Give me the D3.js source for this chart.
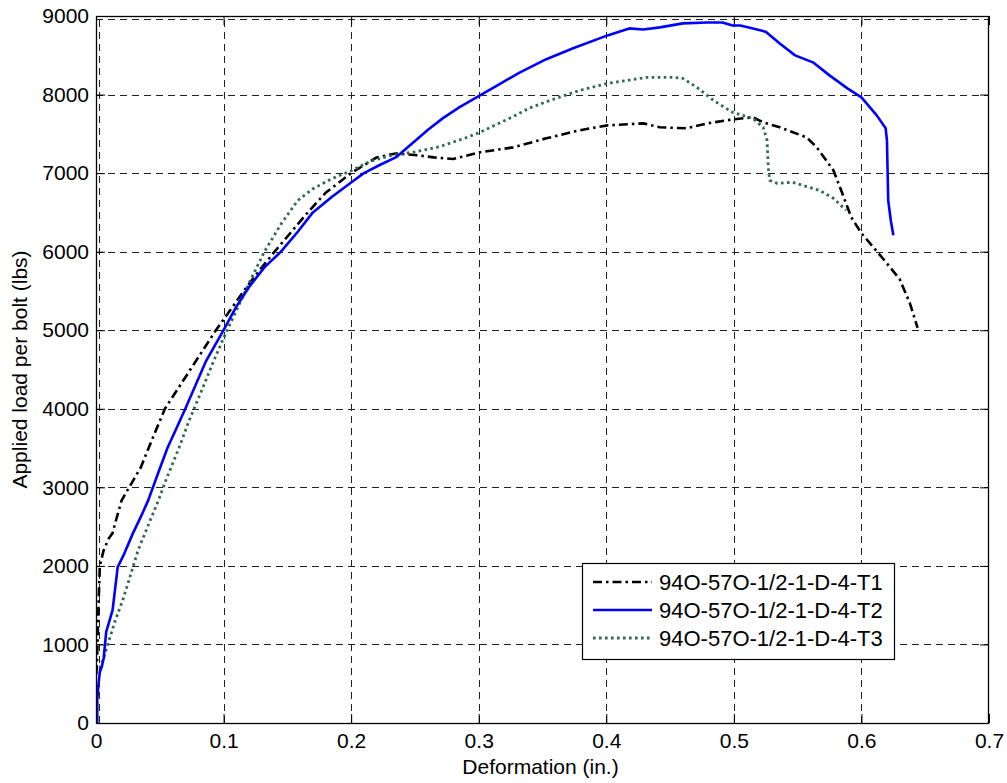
<!DOCTYPE html>
<html>
<head>
<meta charset="utf-8">
<script src="https://cdn.jsdelivr.net/npm/d3@7/dist/d3.min.js"></script>
<style>
  html, body { margin: 0; padding: 0; background: #fff; }
  svg { display: block; }
  text { font-family: "Liberation Sans", Arial, Helvetica, sans-serif; fill: #000; }
</style>
</head>
<body>
<svg id="chart" width="1007" height="783"></svg>
<script>
// ---------- data ----------
const seriesNames = ["94O-57O-1/2-1-D-4-T1", "94O-57O-1/2-1-D-4-T2", "94O-57O-1/2-1-D-4-T3"];

const t1X = [0.0005, 0.001, 0.002, 0.003, 0.006, 0.010, 0.013, 0.016, 0.020, 0.026, 0.035, 0.045, 0.054, 0.064, 0.074, 0.084, 0.094, 0.105, 0.118, 0.130, 0.140, 0.153, 0.166, 0.180, 0.192, 0.200, 0.210, 0.220, 0.235, 0.250, 0.265, 0.280, 0.290, 0.301, 0.327, 0.353, 0.379, 0.401, 0.429, 0.442, 0.463, 0.479, 0.499, 0.515, 0.523, 0.536, 0.557, 0.565, 0.578, 0.585, 0.592, 0.600, 0.616, 0.630, 0.638, 0.644];
const t1Y = [620, 900, 1500, 2000, 2200, 2350, 2420, 2600, 2830, 3000, 3250, 3650, 4000, 4250, 4500, 4750, 5000, 5250, 5550, 5800, 6000, 6250, 6500, 6750, 6900, 7000, 7100, 7200, 7250, 7230, 7200, 7180, 7220, 7265, 7328, 7443, 7545, 7608, 7633, 7583, 7570, 7633, 7684, 7710, 7646, 7583, 7455, 7328, 7036, 6743, 6438, 6234, 5929, 5650, 5343, 5030];

const t2X = [0.001, 0.001, 0.002, 0.003, 0.0045, 0.006, 0.008, 0.013, 0.017, 0.022, 0.029, 0.035, 0.041, 0.048, 0.056, 0.063, 0.070, 0.078, 0.086, 0.093, 0.100, 0.110, 0.120, 0.132, 0.145, 0.158, 0.170, 0.185, 0.200, 0.210, 0.222, 0.235, 0.248, 0.260, 0.272, 0.285, 0.301, 0.314, 0.332, 0.353, 0.374, 0.401, 0.418, 0.429, 0.442, 0.460, 0.479, 0.491, 0.499, 0.505, 0.515, 0.525, 0.536, 0.548, 0.562, 0.575, 0.589, 0.600, 0.612, 0.619, 0.620, 0.621, 0.623, 0.625];
const t2Y = [0, 300, 500, 650, 712, 820, 1160, 1437, 1985, 2150, 2417, 2620, 2837, 3150, 3500, 3750, 4000, 4300, 4600, 4800, 5000, 5300, 5550, 5800, 6000, 6250, 6500, 6700, 6880, 7000, 7100, 7200, 7380, 7550, 7700, 7840, 7990, 8110, 8280, 8450, 8590, 8753, 8842, 8829, 8855, 8906, 8918, 8918, 8880, 8880, 8840, 8800, 8651, 8499, 8410, 8244, 8079, 7964, 7735, 7570, 7417, 6654, 6400, 6209];

const t3X = [0.0, 0.003, 0.0065, 0.0095, 0.015, 0.021, 0.027, 0.033, 0.041, 0.049, 0.055, 0.065, 0.073, 0.082, 0.092, 0.100, 0.110, 0.120, 0.132, 0.145, 0.158, 0.170, 0.185, 0.200, 0.215, 0.230, 0.250, 0.270, 0.290, 0.301, 0.314, 0.327, 0.340, 0.356, 0.379, 0.401, 0.432, 0.452, 0.460, 0.471, 0.484, 0.499, 0.515, 0.523, 0.526, 0.527, 0.528, 0.534, 0.546, 0.567, 0.578, 0.588];
const t3Y = [636, 700, 850, 1017, 1300, 1565, 1880, 2200, 2520, 2837, 3100, 3500, 3850, 4200, 4600, 4900, 5250, 5600, 6000, 6350, 6650, 6800, 6930, 7030, 7150, 7220, 7270, 7340, 7450, 7519, 7620, 7720, 7830, 7926, 8053, 8142, 8219, 8219, 8206, 8092, 7926, 7773, 7697, 7583, 7417, 7074, 6908, 6870, 6883, 6781, 6679, 6527];

const xTicks = [0, 0.1, 0.2, 0.3, 0.4, 0.5, 0.6, 0.7];
const xTickLabels = ["0", "0.1", "0.2", "0.3", "0.4", "0.5", "0.6", "0.7"];
const yTicks = [0, 1000, 2000, 3000, 4000, 5000, 6000, 7000, 8000, 9000];
const yTickLabels = ["0", "1000", "2000", "3000", "4000", "5000", "6000", "7000", "8000", "9000"];

const xLabel = "Deformation (in.)";
const yLabel = "Applied load per bolt (lbs)";

// ---------- layout ----------
const L = 96, R = 989, T = 16, B = 723;
const FS = 21;

const svg = d3.select("#chart");
const x = d3.scaleLinear().domain([0, 0.7]).range([L, R]);
const y = d3.scaleLinear().domain([0, 9000]).range([B, T]);

// grid
const grid = svg.append("g").attr("stroke", "#222").attr("stroke-width", 1)
  .attr("stroke-dasharray", "7,5").attr("fill", "none");
grid.selectAll("line.gx").data(xTicks.slice(1, -1)).enter().append("line")
  .attr("x1", d => Math.round(x(d)) + 0.5).attr("x2", d => Math.round(x(d)) + 0.5)
  .attr("y1", B).attr("y2", T);
grid.selectAll("line.gy").data(yTicks.slice(1, -1)).enter().append("line")
  .attr("y1", d => Math.round(y(d)) + 0.5).attr("y2", d => Math.round(y(d)) + 0.5)
  .attr("x1", L).attr("x2", R);
grid.append("line").attr("x1", L + 3.5).attr("x2", L + 3.5).attr("y1", B).attr("y2", T);
grid.append("line").attr("x1", L).attr("x2", R).attr("y1", T + 3.5).attr("y2", T + 3.5);

// axes via d3 (labels + inward ticks)
const fmtX = d => xTickLabels[xTicks.indexOf(d)];
const fmtY = d => yTickLabels[yTicks.indexOf(d)];

const axB = svg.append("g").attr("transform", `translate(0,${B})`)
  .call(d3.axisBottom(x).tickValues(xTicks).tickFormat(fmtX).tickSizeInner(-9).tickSizeOuter(0).tickPadding(10));
const axL = svg.append("g").attr("transform", `translate(${L},0)`)
  .call(d3.axisLeft(y).tickValues(yTicks).tickFormat(fmtY).tickSizeInner(-9).tickSizeOuter(0).tickPadding(7));
const axT = svg.append("g").attr("transform", `translate(0,${T})`)
  .call(d3.axisTop(x).tickValues(xTicks).tickFormat("").tickSizeInner(-9).tickSizeOuter(0));
const axR = svg.append("g").attr("transform", `translate(${R},0)`)
  .call(d3.axisRight(y).tickValues(yTicks).tickFormat("").tickSizeInner(-9).tickSizeOuter(0));

[axB, axL, axT, axR].forEach(a => {
  a.select(".domain").remove();
  a.selectAll(".tick line").attr("stroke", "#000").attr("stroke-width", 1);
  a.selectAll("text").style("font-size", FS + "px").attr("fill", "#000");
});

// series
const line = d3.line().x(d => x(d[0])).y(d => y(d[1]));
const zip = (xs, ys) => xs.map((v, i) => [v, ys[i]]);

const styles = [
  { color: "#000000", dash: "9,4,2.5,4", width: 2.6 },
  { color: "#0000ff", dash: null, width: 2.6 },
  { color: "#2e6b4e", dash: "2.6,3.4", width: 2.8 }
];
const data = [zip(t1X, t1Y), zip(t2X, t2Y), zip(t3X, t3Y)];

svg.append("clipPath").attr("id", "clip").append("rect")
  .attr("x", L).attr("y", T).attr("width", R - L).attr("height", B - T);
const plot = svg.append("g").attr("clip-path", "url(#clip)");
[0, 2, 1].forEach(i => {
  plot.append("path").attr("d", line(data[i]))
    .attr("fill", "none").attr("stroke", styles[i].color)
    .attr("stroke-width", styles[i].width)
    .attr("stroke-dasharray", styles[i].dash)
    .attr("stroke-linejoin", "round");
});

// box
svg.append("rect").attr("x", L + 0.5).attr("y", T + 0.5)
  .attr("width", R - L - 1).attr("height", B - T)
  .attr("fill", "none").attr("stroke", "#000").attr("stroke-width", 1.3);

// axis titles
svg.append("text").attr("x", (L + R) / 2 - 2).attr("y", 774)
  .attr("text-anchor", "middle").style("font-size", FS + "px").text(xLabel);
svg.append("text").attr("transform", `translate(27,${(T + B) / 2}) rotate(-90)`)
  .attr("text-anchor", "middle").style("font-size", FS + "px").text(yLabel);

// legend
const lg = svg.append("g");
lg.append("rect").attr("x", 582.5).attr("y", 563.5).attr("width", 312).attr("height", 96)
  .attr("fill", "#fff").attr("stroke", "#000").attr("stroke-width", 1.2);
const rowsY = [582, 610, 638];
seriesNames.forEach((name, i) => {
  lg.append("line").attr("x1", 593).attr("x2", 652).attr("y1", rowsY[i]).attr("y2", rowsY[i])
    .attr("stroke", styles[i].color).attr("stroke-width", styles[i].width)
    .attr("stroke-dasharray", styles[i].dash);
  lg.append("text").attr("x", 659).attr("y", rowsY[i]).attr("dy", "0.36em")
    .style("font-size", "22px").text(name);
});
</script>
</body>
</html>
